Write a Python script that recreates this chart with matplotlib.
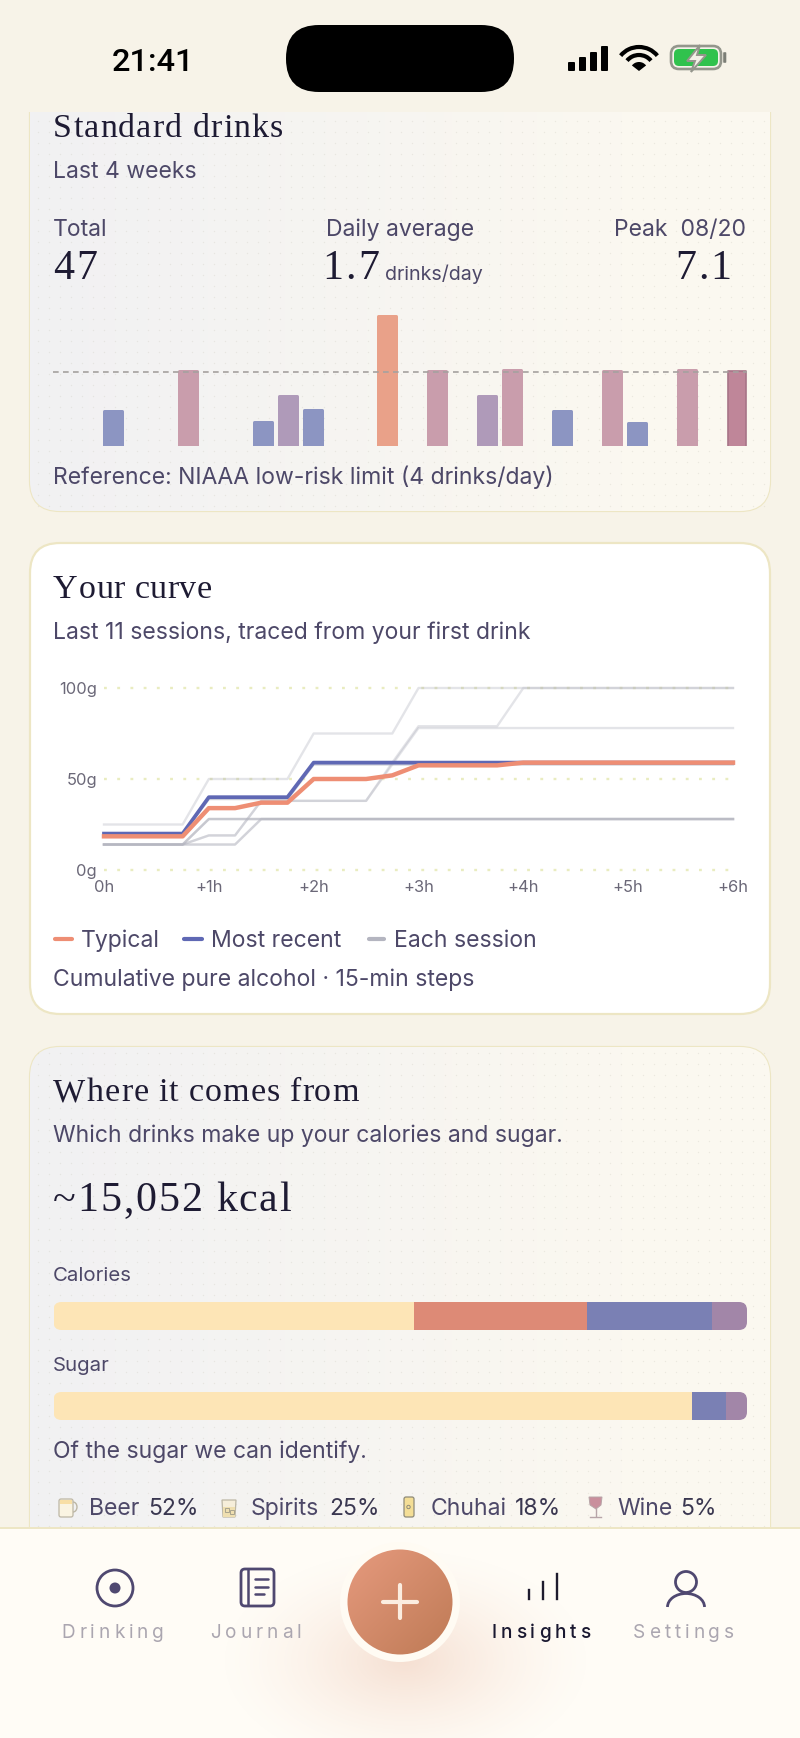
import numpy as np
import matplotlib
matplotlib.use("Agg")
import matplotlib.pyplot as plt
from matplotlib.patches import Rectangle, FancyBboxPatch, Circle, Polygon, Arc, Ellipse, Wedge
from matplotlib.font_manager import FontProperties
from matplotlib.colors import to_rgb

# dados do grafico de barras (dia na janela de 4 semanas, doses)
dias = [2, 5, 8, 9, 10, 13, 15, 17, 18, 20, 22, 23, 25, 27]
doses = [2.0, 4.16, 1.4, 2.8, 2.05, 7.1, 4.16, 2.8, 4.2, 2.0, 4.16, 1.35, 4.2, 4.16]
cores_barras = ["#8C95C2", "#C99DAC", "#8C95C2", "#AF9AB9", "#8C95C2", "#E9A189", "#C99DAC",
                "#AF9AB9", "#C99DAC", "#8C95C2", "#C99DAC", "#8C95C2", "#C99DAC", "#BF8699"]
limite_niaaa = 4

# curvas acumuladas, passos de 15 min
horas = [i * 0.25 for i in range(25)]
mais_recente = [20, 20, 20, 20, 40, 40, 40, 40, 59, 59, 59, 59, 59, 59, 59, 59, 59, 59, 59, 59, 59, 59, 59, 59, 59]
tipica = [18.5, 18.5, 18.5, 18.5, 34, 34, 37, 37, 50, 50, 50, 52, 57.5, 57.5, 57.5, 57.5, 59, 59, 59, 59, 59, 59, 59, 59, 59]
sessoes = [
    [25, 25, 25, 25, 50, 50, 50, 50, 75, 75, 75, 75, 100, 100, 100, 100, 100, 100, 100, 100, 100, 100, 100, 100, 100],
    [14, 14, 14, 14, 28, 28, 28, 28, 28, 28, 28, 28, 28, 28, 28, 28, 28, 28, 28, 28, 28, 28, 28, 28, 28],
    [14, 14, 14, 14, 14, 14, 28, 28, 28, 28, 28, 28, 28, 28, 28, 28, 28, 28, 28, 28, 28, 28, 28, 28, 28],
    [14, 14, 14, 14, 19, 19, 38, 38, 38, 38, 38, 58, 78, 78, 78, 78, 78, 78, 78, 78, 78, 78, 78, 78, 78],
    [14, 14, 14, 14, 19, 19, 38, 38, 38, 38, 38, 59, 79, 79, 79, 79, 100, 100, 100, 100, 100, 100, 100, 100, 100],
    [20, 20, 20, 20, 39, 39, 39, 39, 58, 58, 58, 58, 58, 58, 58, 58, 58, 58, 58, 58, 58, 58, 58, 58, 58],
    [14, 14, 14, 14, 28, 28, 28, 28, 28, 28, 28, 28, 28, 28, 28, 28, 28, 28, 28, 28, 28, 28, 28, 28, 28],
    [14, 14, 14, 14, 28, 28, 28, 28, 28, 28, 28, 28, 28, 28, 28, 28, 28, 28, 28, 28, 28, 28, 28, 28, 28],
    [14, 14, 14, 14, 14, 14, 28, 28, 28, 28, 28, 28, 28, 28, 28, 28, 28, 28, 28, 28, 28, 28, 28, 28, 28],
    [20, 20, 20, 20, 39, 39, 39, 39, 58, 58, 58, 58, 58, 58, 58, 58, 58, 58, 58, 58, 58, 58, 58, 58, 58],
]
ticks_y = [0, 50, 100]
rotulos_y = ["0g", "50g", "100g"]
ticks_x = [0, 1, 2, 3, 4, 5, 6]
rotulos_x = ["0h", "+1h", "+2h", "+3h", "+4h", "+5h", "+6h"]

# composicao por bebida
bebidas = ["Beer", "Spirits", "Chuhai", "Wine"]
calorias = [52, 25, 18, 5]
acucar = [92, 0, 5, 3]
cores_bebidas = ["#FDE5B6", "#DD8A76", "#7A80B4", "#A286A8"]

SANS = "Inter"
SERIF = "Liberation Serif"
TINTA = "#4D4868"
ESCURO = "#1E1B33"
FUNDO = "#F7F3E8"
BORDA = "#EDE6C4"

W, H = 800, 1738
fig = plt.figure(figsize=(W / 100, H / 100), dpi=100, facecolor=FUNDO)
main = fig.add_axes([0, 0, 1, 1], zorder=0)
main.set_axis_off()


def fixa_limites():
    main.set_xlim(0, W)
    main.set_ylim(H, 0)


def eixo_px(x0, y0, x1, y1):
    # eixo filho posicionado em pixels da tela
    ax = fig.add_axes([x0 / W, 1 - y1 / H, (x1 - x0) / W, (y1 - y0) / H], zorder=2)
    ax.patch.set_alpha(0)
    for s in ax.spines.values():
        s.set_visible(False)
    return ax


def texto(x, y, s, px, cor=TINTA, familia=SANS, ha="left", va="baseline", peso="normal", z=6):
    return main.text(x, y, s, fontsize=px * 0.72, color=cor, family=familia, ha=ha, va=va, weight=peso, zorder=z)


def espacado(x, y, s, px, extra, cor=TINTA, familia=SANS, ha="left", peso="normal", z=6):
    # matplotlib nao tem letter-spacing, entao letra por letra
    prop = FontProperties(family=familia, size=px * 0.72, weight=peso)
    rend = fig.canvas.get_renderer()
    larguras = []
    for ch in s:
        if ch == " ":
            larguras.append(px * 0.26)
        else:
            larguras.append(rend.get_text_width_height_descent(ch, prop, False)[0] * 1.04)
    total = sum(larguras) + extra * (len(s) - 1)
    if ha == "center":
        x = x - total / 2
    for ch, l in zip(s, larguras):
        main.text(x, y, ch, fontproperties=prop, color=cor, zorder=z)
        x += l + extra


def cartao(x0, y0, x1, y1, r=30, gradiente=True):
    caixa = FancyBboxPatch((x0 + r, y0 + r), x1 - x0 - 2 * r, y1 - y0 - 2 * r, boxstyle=f"round,pad={r},rounding_size={r}",
                           fc="white", ec=BORDA, lw=1.6, zorder=1)
    main.add_patch(caixa)
    if gradiente:
        esq, dir_ = np.array(to_rgb("#F1F1F3")), np.array(to_rgb("#FBF8F0"))
        t = np.linspace(0, 1, 200)[None, :, None]
        t = np.clip(t * 1.25, 0, 1)
        img = esq * (1 - t) + dir_ * t
        im = main.imshow(img, extent=(x0, x1, y1, y0), aspect="auto", zorder=1.1)
        im.set_clip_path(caixa)
        # pontinhos do papel
        gx, gy = np.meshgrid(np.arange(x0 + 8, x1 - 4, 11), np.arange(y0 + 6, y1 - 4, 11))
        main.scatter(gx.ravel(), gy.ravel(), s=1.0, color="#C9C6BC", alpha=0.3, linewidths=0, zorder=1.2)


# ---------- cartoes ----------
cartao(30, 60, 770, 511)
main.add_patch(Rectangle((0, 0), W, 112, fc=FUNDO, ec="none", zorder=3))
cartao(30, 543, 770, 1014, gradiente=False)
cartao(30, 1047, 770, 1600)

# ---------- status bar ----------
texto(153, 71, "21:41", 32.5, cor="black", familia="Roboto", ha="center", peso="medium")
main.add_patch(FancyBboxPatch((286 + 33, 25 + 33), 228 - 66, 1, boxstyle="round,pad=33,rounding_size=33", fc="black", ec="none", zorder=4))
for bx, bt in zip([568, 579, 590, 601], [62, 57, 52, 46]):
    main.add_patch(FancyBboxPatch((bx + 1, bt + 1), 5, 71 - bt - 2, boxstyle="round,pad=1,rounding_size=1", fc="black", ec="none", zorder=4))
# wifi
for r, lw in [(23, 3.0), (15, 3.0)]:
    main.add_patch(Arc((639, 70), 2 * r * 1.02, 2 * r, theta1=218, theta2=322, color="black", lw=lw, zorder=4))
main.add_patch(Wedge((639, 71), 9, 218, 322, fc="black", ec="none", zorder=4))
# bateria
main.add_patch(FancyBboxPatch((678, 53), 36, 9, boxstyle="round,pad=7,rounding_size=8", fc="#F5F3EA", ec="#94968C", lw=1.9, zorder=4))
main.add_patch(FancyBboxPatch((677, 52), 38, 11, boxstyle="round,pad=3,rounding_size=5", fc="#30C24D", ec="none", zorder=4.05))
main.add_patch(FancyBboxPatch((724, 53), 1.5, 9, boxstyle="round,pad=0.8", fc="#7C7E76", ec="none", zorder=4))
main.add_patch(Polygon([(700, 45), (687, 61), (695, 61), (691, 72), (706, 55), (697, 55)], fc="#F2F0E6", ec="#94968C", lw=1.4, zorder=4.2))

# ---------- Standard drinks ----------
espacado(53, 137, "Standard drinks", 34, 0.55, cor=ESCURO, familia=SERIF)
texto(53, 178, "Last 4 weeks", 23)
texto(53, 236, "Total", 23)
texto(400, 236, "Daily average", 23, ha="center")
texto(746, 236, "Peak  08/20", 23, ha="right")
espacado(53, 279, "47", 42, 1, cor=ESCURO, familia=SERIF)
espacado(322, 279, "1.7", 42, 1.5, cor=ESCURO, familia=SERIF)
texto(385, 280, "drinks/day", 19.6)
espacado(675, 279, "7.1", 42, 1.2, cor=ESCURO, familia=SERIF)

ax_barras = eixo_px(52.6, 315 - 18.5 * 0.9, 751, 446)
ax_barras.set_xlim(0, 28)
ax_barras.set_ylim(0, (446 - 315) / 18.5 + 0.9)
largura = 18 / 24.94
folga = 1.5 / 18.5
barras = ax_barras.bar([d + 10.5 / 24.94 for d in dias], doses, width=largura, bottom=-folga, color=cores_barras,
                       edgecolor=cores_barras, linewidth=2.16, joinstyle="round", zorder=2)
barras[-1].set_edgecolor("#A87488")
barras[-1].set_linewidth(1.2)
ax_barras.plot([0, 27.84], [limite_niaaa, limite_niaaa], color="#A5A19F", lw=1.2, dashes=(3.4, 2.6), zorder=3)
ax_barras.set_xticks([])
ax_barras.set_yticks([])
texto(53, 484, "Reference: NIAAA low-risk limit (4 drinks/day)", 23)

# ---------- Your curve ----------
espacado(53, 598, "Your curve", 34, 0, cor=ESCURO, familia=SERIF)
texto(53, 639, "Last 11 sessions, traced from your first drink", 23)

ax_curva = eixo_px(104, 688, 733, 870)
ax_curva.set_xlim(0, 6)
ax_curva.set_ylim(0, 100)
for t in ticks_y:
    ax_curva.axhline(t, color="#E9ECC0", lw=1.7, dashes=(1.2, 4.4), zorder=1, clip_on=False)
for s in sessoes:
    ax_curva.plot(horas, s, color="#B4B5C0", alpha=0.36, lw=1.7, solid_joinstyle="round", zorder=2, clip_on=False)
ax_curva.plot(horas, mais_recente, color="#5F68B4", lw=2.7, solid_joinstyle="round", zorder=3, clip_on=False)
ax_curva.plot(horas, tipica, color="#EE8E74", lw=3.2, solid_joinstyle="round", zorder=4, clip_on=False)
ax_curva.set_yticks(ticks_y)
ax_curva.set_yticklabels(rotulos_y, fontsize=16.5 * 0.72, color="#6B6878", family=SANS)
ax_curva.set_xticks(ticks_x)
ax_curva.set_xticklabels(rotulos_x, fontsize=16.5 * 0.72, color="#6B6878", family=SANS)
ax_curva.tick_params(axis="both", length=0)
ax_curva.tick_params(axis="x", pad=7)
ax_curva.tick_params(axis="y", pad=5)

for x0, x1, cor in [(55, 72, "#EE8E74"), (184, 202, "#5F68B4"), (369, 384, "#B4B5C0")]:
    main.plot([x0, x1], [939, 939], color=cor, lw=3, solid_capstyle="round", zorder=5)
texto(81, 947, "Typical", 23)
texto(211, 947, "Most recent", 23)
texto(394, 947, "Each session", 23)
texto(53, 986, "Cumulative pure alcohol · 15-min steps", 23)

# ---------- Where it comes from ----------
espacado(53, 1101, "Where it comes from", 34, 0.4, cor=ESCURO, familia=SERIF)
texto(53, 1142, "Which drinks make up your calories and sugar.", 23)
espacado(53, 1211, "~15,052 kcal", 42, 1.0, cor=ESCURO, familia=SERIF)
texto(53, 1281, "Calories", 20.4)
texto(53, 1371, "Sugar", 20.4)

for (y0, y1, vals) in [(1302, 1330, calorias), (1392, 1420, acucar)]:
    ax_b = eixo_px(53.5, y0, 747, y1)
    ax_b.set_xlim(0, 100)
    ax_b.set_ylim(0, 1)
    forma = FancyBboxPatch((53.5 + 8, y0 + 8), 693.5 - 16, y1 - y0 - 16, boxstyle="round,pad=8,rounding_size=8",
                           transform=main.transData)
    esquerda = 0
    for v, cor in zip(vals, cores_bebidas):
        seg = ax_b.barh(0.5, v, left=esquerda, height=1, color=cor, linewidth=0)[0]
        seg.set_clip_path(forma)
        esquerda += v
    ax_b.set_xticks([])
    ax_b.set_yticks([])

texto(53, 1458, "Of the sugar we can identify.", 23)

# legenda com icones
legenda_x = [(89, 148), (251, 329), (431, 515), (617, 680)]
for b, c, (xa, xb) in zip(bebidas, calorias, legenda_x):
    texto(xa, 1515, b, 23)
    texto(xb, 1515, f"{c}%", 23, cor="#3A3750")
# caneca
main.add_patch(FancyBboxPatch((60, 1500), 12, 16, boxstyle="round,pad=1,rounding_size=2", fc="#FAF4E2", ec="#BDB7A5", lw=0.9, zorder=5))
main.add_patch(Rectangle((60, 1499.5), 12, 4, fc="#F8DFA6", ec="none", zorder=5.1))
main.add_patch(Arc((73, 1507), 8, 10, theta1=-90, theta2=90, color="#BDB7A5", lw=1.0, zorder=5))
# copo
main.add_patch(Polygon([(222, 1500), (236, 1500), (235, 1517), (223, 1517)], fc="#F6EEDA", ec="#BDB7A5", lw=0.9, zorder=5))
main.add_patch(Polygon([(223, 1507), (235, 1507), (235, 1517), (223, 1517)], fc="#EFDFB0", ec="none", zorder=5.1))
main.add_patch(Rectangle((225, 1508), 3.5, 3.5, fc="none", ec="#9E9A88", lw=0.6, zorder=5.2))
main.add_patch(Rectangle((230, 1510), 3.5, 3.5, fc="none", ec="#9E9A88", lw=0.6, zorder=5.2))
# lata
main.add_patch(FancyBboxPatch((405, 1498), 8, 18, boxstyle="round,pad=1,rounding_size=2", fc="#F4DE96", ec="#8E8A78", lw=0.9, zorder=5))
main.add_patch(Circle((408.5, 1507), 1.7, fc="none", ec="#8E8A78", lw=0.7, zorder=5))
# taca
main.add_patch(Polygon([(589, 1497), (602, 1497), (601, 1505), (596, 1509), (590, 1505)], fc="#C98F9C", ec="#B7A5A8", lw=0.7, zorder=5))
main.plot([595.5, 595.5], [1509, 1516], color="#B7A5A8", lw=1, zorder=5)
main.plot([590, 601], [1517, 1517], color="#B7A5A8", lw=1, zorder=5)

# ---------- barra de abas ----------
main.add_patch(Rectangle((0, 1528), W, H - 1528, fc="#FFFCF6", ec="none", zorder=7))
main.plot([0, W], [1528, 1528], color=BORDA, lw=1.4, zorder=7.1)
yy, xx = np.mgrid[1528:1738, 150:650]
dist = np.sqrt(((xx - 405) / 190.0) ** 2 + ((yy - 1660) / 115.0) ** 2)
glow = np.zeros(dist.shape + (4,))
glow[..., :3] = to_rgb("#E5AD92")
glow[..., 3] = 0.36 * np.clip(1 - dist, 0, 1) ** 1.5
main.imshow(glow, extent=(150, 650, 1738, 1528), aspect="auto", zorder=7.2)

main.add_patch(Circle((400, 1602), 60, fc="#FFFBF3", ec="none", zorder=8))
disco = Circle((400, 1602), 52.5, fc="none", ec="none", zorder=8.1)
main.add_patch(disco)
gy_, gx_ = np.mgrid[0:1:100j, 0:1:100j]
tt = ((gx_ + gy_) / 2)[..., None]
grad = np.array(to_rgb("#E69A7E")) * (1 - tt) + np.array(to_rgb("#BE7A55")) * tt
im = main.imshow(grad, extent=(347, 453, 1655, 1549), aspect="auto", zorder=8.2)
im.set_clip_path(disco)
main.plot([383, 417], [1602, 1602], color="#FBEDE0", lw=3, solid_capstyle="round", zorder=8.3)
main.plot([400, 400], [1585, 1618], color="#FBEDE0", lw=3, solid_capstyle="round", zorder=8.3)

ICONE = "#4F4870"
main.add_patch(Circle((115, 1588), 18, fc="none", ec=ICONE, lw=2, zorder=8))
main.add_patch(Circle((115, 1588), 5.5, fc=ICONE, ec="none", zorder=8))
main.add_patch(FancyBboxPatch((245, 1573), 25, 29, boxstyle="round,pad=4,rounding_size=4", fc="none", ec=ICONE, lw=2, zorder=8))
main.plot([248, 248], [1570, 1605], color=ICONE, lw=1.8, zorder=8)
for ly, lx in [(1579, 268), (1587, 268), (1594, 264)]:
    main.plot([255, lx], [ly, ly], color=ICONE, lw=1.8, solid_capstyle="round", zorder=8)
for bx, bt in zip([529, 543, 557], [1590, 1582, 1574]):
    main.plot([bx, bx], [bt, 1599], color="#1E1B2E", lw=1.7, zorder=8)
main.add_patch(Ellipse((686, 1582), 21, 21, fc="none", ec=ICONE, lw=2, zorder=8))
main.add_patch(Arc((686, 1607), 37, 27, theta1=180, theta2=360, color=ICONE, lw=2, zorder=8))

APAGADO = "#ABA6B0"
espacado(113, 1638, "Drinking", 19, 3.6, cor=APAGADO, ha="center", z=9)
espacado(256, 1638, "Journal", 19, 3.6, cor=APAGADO, ha="center", z=9)
espacado(541, 1638, "Insights", 19, 3.6, cor="#1A1830", ha="center", peso="medium", z=9)
espacado(684, 1638, "Settings", 19, 3.6, cor=APAGADO, ha="center", z=9)

fixa_limites()
fig.savefig("out.png", dpi=100, facecolor=FUNDO)
